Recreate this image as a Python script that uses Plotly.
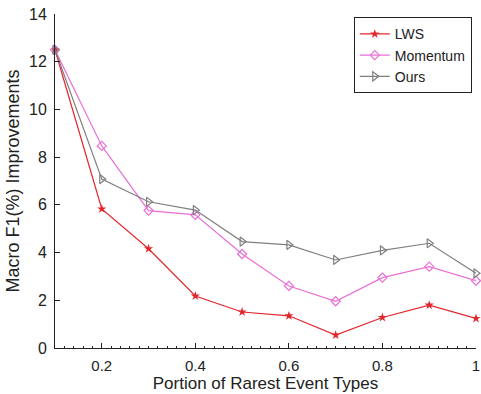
import plotly.graph_objects as go

portion = [0.1, 0.2, 0.3, 0.4, 0.5, 0.6, 0.7, 0.8, 0.9, 1.0]
lws = [12.5, 5.83, 4.16, 2.18, 1.51, 1.35, 0.54, 1.28, 1.80, 1.24]
momentum = [12.5, 8.47, 5.76, 5.58, 3.94, 2.60, 1.96, 2.95, 3.41, 2.82]
ours = [12.5, 7.08, 6.13, 5.78, 4.46, 4.32, 3.69, 4.09, 4.39, 3.13]

x_ticks = [0.2, 0.4, 0.6, 0.8, 1.0]
x_tick_labels = ["0.2", "0.4", "0.6", "0.8", "1"]
y_ticks = [0, 2, 4, 6, 8, 10, 12, 14]

fig = go.Figure()
fig.add_trace(go.Scatter(x=portion, y=lws, name="LWS", mode="lines+markers", cliponaxis=False,
                         line=dict(color="#e3262c", width=1.2),
                         marker=dict(symbol="star", size=7, color="#e3262c")))
fig.add_trace(go.Scatter(x=portion, y=momentum, name="Momentum", mode="lines+markers", cliponaxis=False,
                         line=dict(color="#ea6fd6", width=1.2),
                         marker=dict(symbol="diamond-open", size=7, color="#ea6fd6", line=dict(width=1.2))))
fig.add_trace(go.Scatter(x=portion, y=ours, name="Ours", mode="lines+markers", cliponaxis=False,
                         line=dict(color="#7f7f7f", width=1.2),
                         marker=dict(symbol="triangle-right-open", size=8, color="#7f7f7f", line=dict(width=1.2))))

fig.update_layout(
    width=481, height=394,
    margin=dict(l=55, r=5, t=14, b=46, autoexpand=False),
    paper_bgcolor="white", plot_bgcolor="white",
    font=dict(family="Liberation Sans, Arial, sans-serif", size=15, color="#222"),
    showlegend=True,
    legend=dict(x=0.99, y=0.99, xanchor="right", yanchor="top",
                bgcolor="white", bordercolor="#222", borderwidth=1,
                font=dict(size=14), tracegroupgap=0, itemwidth=30),
)
fig.update_xaxes(range=[0.1, 1.0], tickvals=x_ticks, ticktext=x_tick_labels, automargin=False,
                 ticks="inside", ticklen=5, tickcolor="#222", showgrid=False, zeroline=False,
                 showline=True, linecolor="#222", linewidth=1,
                 tickfont=dict(size=15), ticklabeloverflow="allow", ticklabelstandoff=4,
                 minor=dict(dtick=0.02, ticks="inside", ticklen=2, tickcolor="#222"),
                 title=dict(text="Portion of Rarest Event Types", font=dict(size=17), standoff=0))
fig.update_yaxes(range=[0, 14], tickvals=y_ticks, automargin=False,
                 ticks="inside", ticklen=5, tickcolor="#222", showgrid=False, zeroline=False,
                 showline=True, linecolor="#222", linewidth=1,
                 tickfont=dict(size=16), ticklabeloverflow="allow", ticklabelstandoff=4,
                 title=dict(text="Macro F1(%) Improvements", font=dict(size=18), standoff=4))

fig.write_html("out.html", config={"displayModeBar": False},
               post_script="document.body.style.margin='0';document.body.style.overflow='hidden';")
